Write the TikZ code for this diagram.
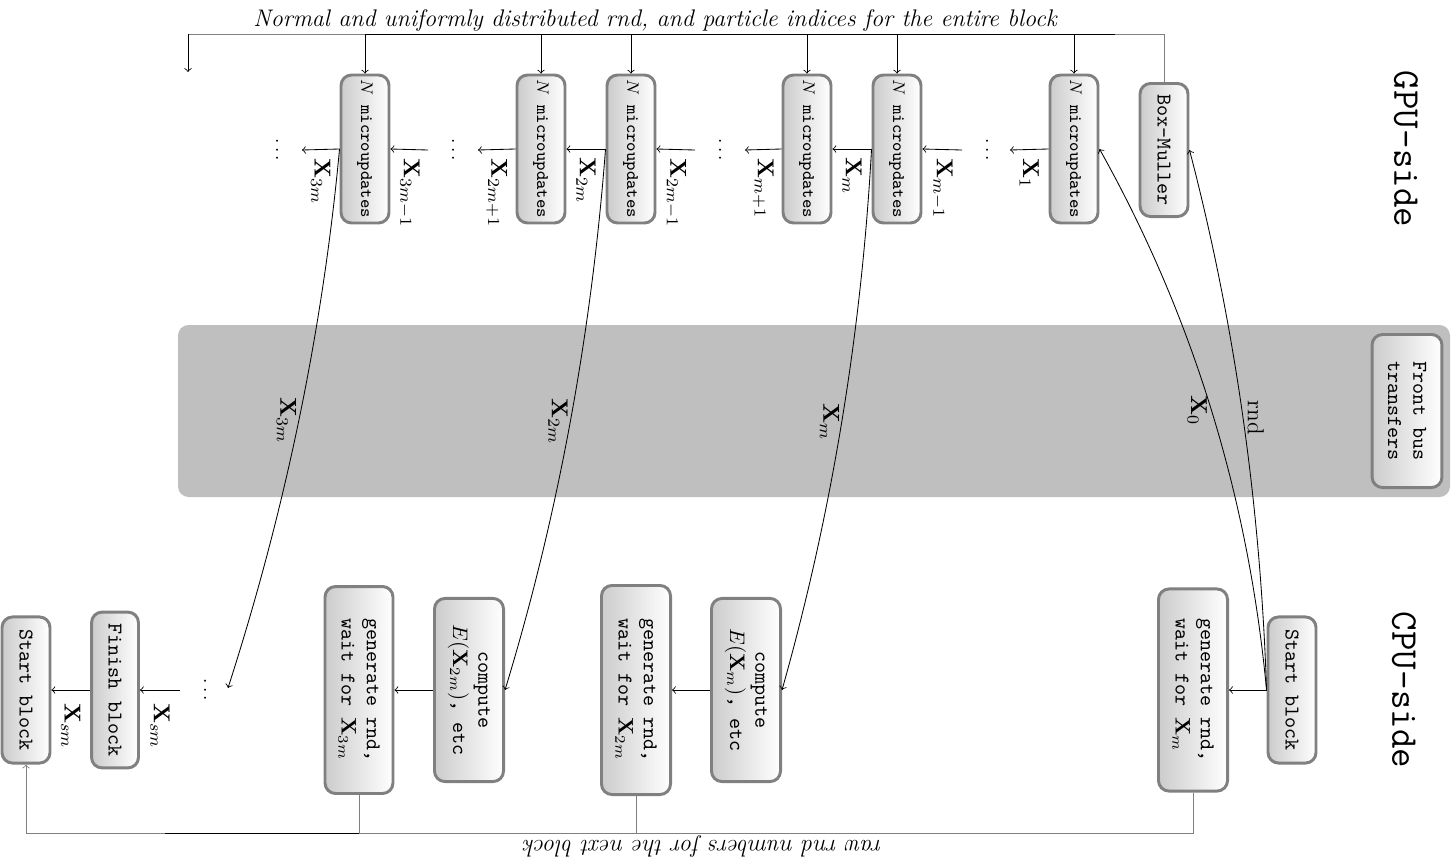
\documentclass[tikz,border=0pt]{standalone}
\begin{document}
\begin{tikzpicture}[x=0.475pt,y=-0.475pt,
  box/.style={rounded corners=5pt, draw=gray, line width=1.4pt, left color=gray!40, right color=white, rotate=-90, inner sep=0pt, font=\ttfamily},
  micro/.style={box, minimum width=70.3pt, minimum height=22.8pt, font=\ttfamily\fontsize{8.4}{10}\selectfont},
  big/.style={font=\fontsize{11}{13.5}\selectfont},
  bigit/.style={font=\fontsize{11.4}{14}\selectfont\itshape},
  lab/.style={big, rotate=-90, anchor=west, inner xsep=4pt, inner ysep=0pt},
  labc/.style={big, rotate=-90, anchor=west, inner xsep=6pt, inner ysep=0pt},
  dts/.style={rotate=-90, anchor=base, inner sep=0pt, font=\small},
  side/.style={rotate=-90, font=\ttfamily\fontsize{18}{22}\selectfont},
]
\useasboundingbox (0,0) rectangle (1455,857);
% bus band
\fill[gray!50, rounded corners=5pt] (178,325) rectangle (1450,497);
\node[box, minimum width=72.7pt, minimum height=33.2pt, align=center] (fbt) at (1407,411) {Front bus\\transfers};

% side titles
\node[side] (gpu) at (1406,149) {GPU-side};
\node[side] (cpu) at (1404,690) {CPU-side};

% GPU nodes
\node[micro] (u1) at (1074,149) {$N$ microupdates};
\node[micro] (u2) at (897,149) {$N$ microupdates};
\node[micro] (u3) at (807,149) {$N$ microupdates};
\node[micro] (u4) at (631,149) {$N$ microupdates};
\node[micro] (u5) at (541,149) {$N$ microupdates};
\node[micro] (u6) at (365,149) {$N$ microupdates};
\node[box, minimum width=63.2pt, minimum height=22.8pt] (bm) at (1164,150) {Box-Muller};

% CPU nodes
\node[box, minimum width=69.4pt, minimum height=22.8pt] (sb) at (1292,690) {Start block};
\node[box, minimum width=96pt, minimum height=32.8pt, align=left] (g1) at (1193,690) {generate rnd,\\wait for $\mathbf{X}_m$};
\node[box, minimum width=87pt, minimum height=32.8pt, align=center] (c1) at (746,690) {compute\\$E(\mathbf{X}_m)$, etc};
\node[box, minimum width=99.3pt, minimum height=32.8pt, align=left] (g2) at (636,690) {generate rnd,\\wait for $\mathbf{X}_{2m}$};
\node[box, minimum width=87pt, minimum height=32.8pt, align=center] (c2) at (469,690) {compute\\$E(\mathbf{X}_{2m})$, etc};
\node[box, minimum width=98.3pt, minimum height=32.3pt, align=left] (g3) at (359,690) {generate rnd,\\wait for $\mathbf{X}_{3m}$};
\node[box, minimum width=74pt, minimum height=22.3pt] (fb) at (115,690) {Finish block};
\node[box, minimum width=69.4pt, minimum height=22.8pt] (sb2) at (26,690) {Start block};

% top distribution line
\coordinate (tl) at (188,34);
\coordinate (tb) at (1115,34);
\draw[gray] (bm.west) |- (tl);
\draw[->] (tl) -- ++(0,38);
\draw (u6.west |- tl) -- (tb);
\node[bigit] (toplab) at (655,20) {Normal and uniformly distributed rnd, and particle indices for the entire block};
\foreach \u in {u1,u2,u3,u4,u5,u6} \draw[->] (\u.west |- tl) -- (\u.west);

% GPU chain
\coordinate (a1) at (1010,150);
\coordinate (a2) at (962,150);
\coordinate (a3) at (745,150);
\coordinate (a4) at (695,150);
\coordinate (a5) at (478,150);
\coordinate (a6) at (428,150);
\coordinate (a7) at (302,150);
\draw[->] (u1.south) -- node[lab] {$\mathbf{X}_1$} (a1);
\draw[->] (a2) -- node[lab] {$\mathbf{X}_{m-1}$} (u2.north);
\draw[->] (u2.south) -- node[lab] {$\mathbf{X}_m$} (u3.north);
\draw[->] (u3.south) -- node[lab] {$\mathbf{X}_{m+1}$} (a3);
\draw[->] (a4) -- node[lab] {$\mathbf{X}_{2m-1}$} (u4.north);
\draw[->] (u4.south) -- node[lab] {$\mathbf{X}_{2m}$} (u5.north);
\draw[->] (u5.south) -- node[lab] {$\mathbf{X}_{2m+1}$} (a5);
\draw[->] (a6) -- node[lab] {$\mathbf{X}_{3m-1}$} (u6.north);
\draw[->] (u6.south) -- node[lab] {$\mathbf{X}_{3m}$} (a7);
\node[dts] (d1) at (986,150) {$\ldots$};
\node[dts] (d2) at (719,150) {$\ldots$};
\node[dts] (d3) at (452,150) {$\ldots$};
\node[dts] (d4) at (276,150) {$\ldots$};

% CPU chain
\coordinate (cd) at (228,688);
\coordinate (ca) at (180,690);
\node[dts] (d5) at (204,690) {$\ldots$};
\draw[->] (sb.south) -- (g1.north);
\draw[->] (c1.south) -- (g2.north);
\draw[->] (c2.south) -- (g3.north);
\draw[->] (ca) -- node[labc] {$\mathbf{X}_{sm}$} (fb.north);
\draw[->] (fb.south) -- node[labc] {$\mathbf{X}_{sm}$} (sb2.north);

% bottom return line
\coordinate (bl) at (26,833);
\coordinate (bk) at (165,833);
\draw[gray, ->] (g1.east) |- (bl) -- (sb2.east);
\draw[gray] (g2.east) -- (g2.east |- bl);
\draw[gray] (g3.east) -- (g3.east |- bl);
\draw (bk) -- (g3.east |- bl);
\node[bigit, rotate=180] (botlab) at (703,846) {raw rnd numbers for the next block};

% transfers
\draw[->] (sb.south) .. controls +(-6,-182) and +(46,176) .. node[big, rotate=-90, anchor=south, inner sep=2pt] {rnd} (bm.north);
\draw[->] (sb.south) .. controls +(-18,-192) and +(94,168) .. node[big, rotate=-90, anchor=north, inner sep=2pt] {$\mathbf{X}_0$} (u1.north);
\draw[->] (u2.south) .. controls +(-10,183) and +(50,-177) .. node[big, rotate=-90, anchor=north, inner sep=1pt] {$\mathbf{X}_m$} (c1.north);
\draw[->] (u4.south) .. controls +(-14,183) and +(54,-177) .. node[big, rotate=-90, anchor=north, inner sep=1pt] {$\mathbf{X}_{2m}$} (c2.north);
\draw[->] (u6.south) .. controls +(-17,183) and +(57,-177) .. node[big, rotate=-90, anchor=north, inner sep=1pt] {$\mathbf{X}_{3m}$} (cd);
\end{tikzpicture}
\end{document}
